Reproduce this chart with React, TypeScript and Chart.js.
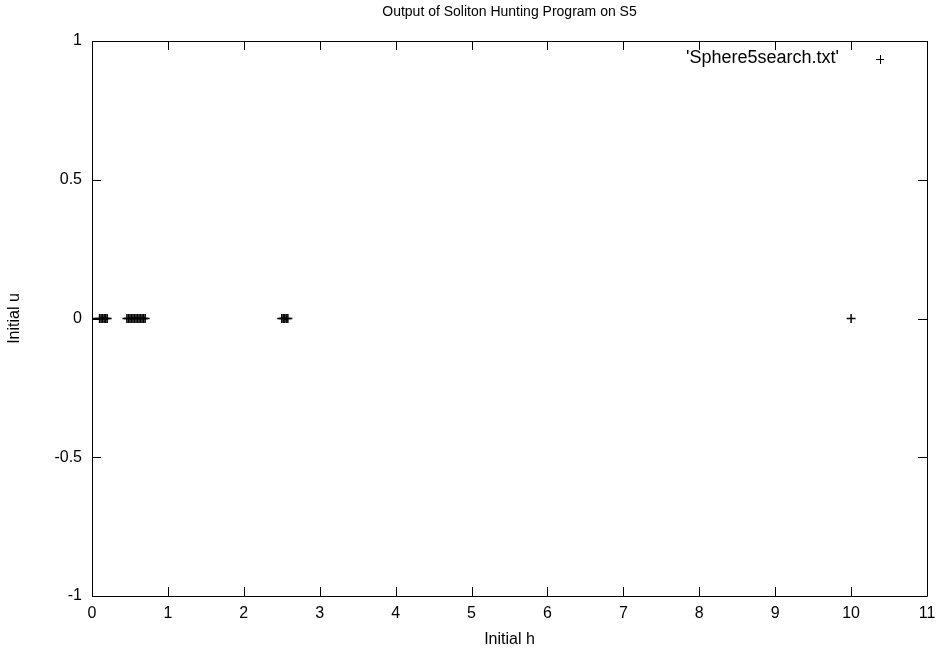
import React, { useEffect, useRef } from "react";
import { Chart, registerables } from "chart.js";

Chart.register(...registerables);

const chartTitle = "Output of Soliton Hunting Program on S5";
const xAxisTitle = "Initial h";
const yAxisTitle = "Initial u";
const seriesName = "'Sphere5search.txt'";

const initialH = [
  0, 0.1, 0.12, 0.14, 0.16, 0.18, 0.2,
  0.46, 0.48, 0.5, 0.52, 0.54, 0.56, 0.58, 0.6, 0.62, 0.64, 0.66, 0.68, 0.7,
  2.5, 2.52, 2.54, 2.56, 2.58,
  10,
];
const initialU = [
  0, 0, 0, 0, 0, 0, 0,
  0, 0, 0, 0, 0, 0, 0, 0, 0, 0, 0, 0, 0,
  0, 0, 0, 0, 0,
  0,
];

const xTicks = [0, 1, 2, 3, 4, 5, 6, 7, 8, 9, 10, 11];
const yTicks = [-1, -0.5, 0, 0.5, 1];

const FONT = "Liberation Sans, Arial, Helvetica, sans-serif";
const FS = 16;

const framePlugin = {
  id: "gnuplotFrame",
  afterDraw(chart: any) {
    const { ctx, chartArea } = chart;
    const { left, right, top, bottom } = chartArea;
    const xs = chart.scales.x;
    const ys = chart.scales.y;
    ctx.save();
    ctx.strokeStyle = "#000";
    ctx.lineWidth = 1;
    ctx.beginPath();
    ctx.rect(Math.round(left) + 0.5, Math.round(top) + 0.5, Math.round(right - left), Math.round(bottom - top));
    ctx.stroke();
    const tl = 9;
    ctx.beginPath();
    for (const v of xTicks) {
      const px = Math.round(xs.getPixelForValue(v)) + 0.5;
      ctx.moveTo(px, bottom);
      ctx.lineTo(px, bottom - tl);
      ctx.moveTo(px, top);
      ctx.lineTo(px, top + tl);
    }
    for (const v of yTicks) {
      const py = Math.round(ys.getPixelForValue(v)) + 0.5;
      ctx.moveTo(left, py);
      ctx.lineTo(left + tl, py);
      ctx.moveTo(right, py);
      ctx.lineTo(right - tl, py);
    }
    ctx.stroke();

    ctx.fillStyle = "#000";
    ctx.textAlign = "center";
    ctx.textBaseline = "middle";
    const cx = (left + right) / 2;
    ctx.font = `14px ${FONT}`;
    ctx.fillText(chartTitle, cx, 12);
    ctx.font = `${FS}px ${FONT}`;
    ctx.fillText(xAxisTitle, cx, 640);
    ctx.save();
    ctx.translate(15, (top + bottom) / 2);
    ctx.rotate(-Math.PI / 2);
    ctx.fillText(yAxisTitle, 0, 0);
    ctx.restore();

    // legend
    ctx.font = `18px ${FONT}`;
    ctx.textAlign = "right";
    ctx.fillText(seriesName, 839, 58);
    const lx = 880;
    const ly = 59.5;
    ctx.beginPath();
    ctx.moveTo(lx - 4, ly);
    ctx.lineTo(lx + 4, ly);
    ctx.moveTo(lx + 0.5, ly - 4.5);
    ctx.lineTo(lx + 0.5, ly + 4.5);
    ctx.stroke();
    ctx.restore();
  },
};

export default function App() {
  const ref = useRef<HTMLCanvasElement | null>(null);
  useEffect(() => {
    document.body.style.margin = "0";
    const canvas = ref.current!;
    const chart = new Chart(canvas, {
      type: "scatter",
      data: {
        datasets: [
          {
            label: seriesName,
            data: initialH.map((h, i) => ({ x: h, y: initialU[i] })),
            pointStyle: "cross",
            pointRadius: 4.5,
            borderColor: "#000",
            backgroundColor: "#000",
            borderWidth: 1.5,
          },
        ],
      },
      options: {
        responsive: false,
        animation: false,
        layout: { padding: { top: 41, right: 11, left: 0, bottom: 0 } },
        plugins: {
          legend: { display: false },
          title: { display: false },
          tooltip: { enabled: false },
        },
        scales: {
          x: {
            type: "linear",
            min: 0,
            max: 11,
            afterBuildTicks: (s: any) => {
              s.ticks = xTicks.map((v) => ({ value: v }));
            },
            afterFit: (s: any) => {
              s.height = 61;
              s.paddingRight = 0;
              s.paddingLeft = 0;
            },
            grid: { display: false, drawTicks: false },
            border: { display: false },
            ticks: {
              color: "#000",
              font: { family: FONT, size: FS },
              padding: 8,
              maxRotation: 0,
              callback: (v: any) => String(v),
            },
          },
          y: {
            type: "linear",
            min: -1,
            max: 1,
            afterBuildTicks: (s: any) => {
              s.ticks = yTicks.map((v) => ({ value: v }));
            },
            afterFit: (s: any) => {
              s.width = 92;
              s.paddingTop = 0;
              s.paddingBottom = 0;
            },
            grid: { display: false, drawTicks: false },
            border: { display: false },
            ticks: {
              color: "#000",
              font: { family: FONT, size: FS },
              padding: 10,
              callback: (v: any) => String(v),
            },
          },
        },
      },
      plugins: [framePlugin],
    });
    return () => chart.destroy();
  }, []);
  return <canvas ref={ref} width={938} height={657} style={{ display: "block" }} />;
}
